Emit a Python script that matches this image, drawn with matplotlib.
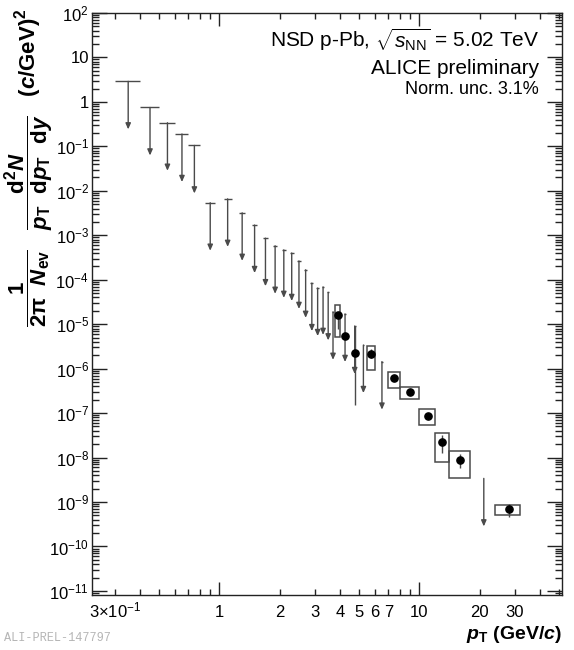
import numpy as np
import matplotlib
matplotlib.use("Agg")
import matplotlib.pyplot as plt
from matplotlib.patches import Rectangle
from matplotlib.ticker import LogLocator, FuncFormatter, FixedLocator, NullFormatter

plt.rcParams['font.family'] = ['Liberation Sans', 'DejaVu Sans']
plt.rcParams['mathtext.fontset'] = 'custom'
plt.rcParams['mathtext.rm'] = 'Liberation Sans'
plt.rcParams['mathtext.it'] = 'Liberation Sans:italic'
plt.rcParams['mathtext.bf'] = 'Liberation Sans:bold'
plt.rcParams['mathtext.bfit'] = 'Liberation Sans:italic:bold'
plt.rcParams['mathtext.sf'] = 'Liberation Sans'

# upper limits (top of arrow), pT in GeV/c
ul_pt = [0.35, 0.45, 0.55, 0.65, 0.75, 0.9, 1.1, 1.3, 1.5, 1.7, 1.9, 2.1, 2.3,
         2.5, 2.7, 2.9, 3.1, 3.3, 3.5, 3.7, 4.25, 4.75, 5.25, 6.5, 21.0]
ul_val = [2.9, 0.75, 0.34, 0.19, 0.105, 5.4e-3, 6.6e-3, 3.2e-3, 1.7e-3, 8.6e-4,
          5.8e-4, 4.7e-4, 4.0e-4, 2.65e-4, 1.67e-4, 8.4e-5, 6.5e-5, 6.9e-5,
          5.2e-5, 1.9e-5, 1.7e-5, 9.1e-6, 3.4e-6, 1.44e-6, 3.4e-9]

# measured points
pt = [3.9, 4.25, 4.75, 5.75, 7.5, 9.0, 11.0, 13.0, 16.0, 28.0]
val = [1.6e-5, 5.4e-6, 2.26e-6, 2.15e-6, 6.1e-7, 3.0e-7, 8.75e-8, 2.2e-8, 8.9e-9, 6.9e-10]
stat_low = [7.8e-6, 5.4e-6, 1.5e-7, 1.7e-6, 5.2e-7, 2.7e-7, 8.0e-8, 1.3e-8, 5.9e-9, 4.5e-10]
stat_high = [1.9e-5, 5.4e-6, 9.1e-6, 2.7e-6, 6.9e-7, 3.3e-7, 9.5e-8, 3.2e-8, 1.2e-8, 9.0e-10]

# systematic boxes (nan = no box)
sys_pt_lo = [3.8, np.nan, np.nan, 5.5, 7.0, 8.0, 10.0, 12.0, 14.0, 24.0]
sys_pt_hi = [4.0, np.nan, np.nan, 6.0, 8.0, 10.0, 12.0, 14.0, 18.0, 32.0]
sys_low = [5.25e-6, np.nan, np.nan, 9.55e-7, 3.7e-7, 2.03e-7, 5.5e-8, 8.0e-9, 3.5e-9, 5.1e-10]
sys_high = [2.69e-5, np.nan, np.nan, 3.3e-6, 8.6e-7, 3.85e-7, 1.24e-7, 3.58e-8, 1.44e-8, 8.7e-10]

y_decades = list(range(-11, 3))
x_labelled = [0.3, 2, 3, 4, 5, 6, 7, 20, 30]
x_label_text = [r'$3{\times}10^{-1}$', '2', '3', '4', '5', '6', '7', '20', '30']

grey = '#4a4a4a'
arrow_factor = 10 ** -1.08
cap_half = 0.05

fig = plt.figure(figsize=(5.74, 6.5), dpi=100)
ax = fig.add_axes([0.1598, 0.0846, 0.8188, 0.8954])
ax.set_xscale('log')
ax.set_yscale('log')
ax.set_xlim(0.23, 51.5)
ax.set_ylim(8.1e-12, 1e2)

# upper limits
for p, v in zip(ul_pt, ul_val):
    ax.hlines(v, p - cap_half, p + cap_half, color=grey, lw=1.0)
    ax.annotate('', xy=(p, v * arrow_factor), xytext=(p, v),
                arrowprops=dict(arrowstyle='-|>,head_length=0.5,head_width=0.22',
                                color=grey, lw=1.0, shrinkA=0, shrinkB=0,
                                mutation_scale=7))

# systematic boxes
for x0, x1, y0, y1 in zip(sys_pt_lo, sys_pt_hi, sys_low, sys_high):
    if np.isnan(x0):
        continue
    ax.add_patch(Rectangle((x0, y0), x1 - x0, y1 - y0, fill=False,
                           ec=grey, lw=1.1, zorder=3))

# statistical errors and points
ax.vlines(pt, stat_low, stat_high, color=grey, lw=1.0, zorder=4)
ax.plot(pt, val, 'o', color='black', ms=5.2, zorder=5)

# axes styling
for s in ax.spines.values():
    s.set_linewidth(1.0)
    s.set_color('#222222')

ax.yaxis.set_major_locator(FixedLocator([10.0 ** e for e in y_decades]))
ax.yaxis.set_minor_locator(LogLocator(base=10, subs=np.arange(2, 10), numticks=30))


def y_fmt(v, pos):
    e = int(round(np.log10(v)))
    if e == 0:
        return '1'
    if e == 1:
        return '10'
    return r'$10^{%d}$' % e


ax.yaxis.set_major_formatter(FuncFormatter(y_fmt))
ax.yaxis.set_minor_formatter(NullFormatter())

ax.xaxis.set_major_locator(FixedLocator([1, 10]))
ax.xaxis.set_minor_locator(LogLocator(base=10, subs=np.arange(2, 10), numticks=30))
ax.xaxis.set_major_formatter(FuncFormatter(lambda v, pos: '%d' % round(v)))


def x_minor_fmt(v, pos):
    for t, lab in zip(x_labelled, x_label_text):
        if abs(v - t) / t < 1e-6:
            return lab
    return ''


ax.xaxis.set_minor_formatter(FuncFormatter(x_minor_fmt))

ax.tick_params(which='both', direction='in', top=True, right=True,
               labelsize=12, color='#222222', width=1.0)
ax.tick_params(axis='x', which='major', length=9.5, pad=16)
ax.tick_params(axis='x', which='minor', length=4.5, pad=16)
ax.tick_params(axis='y', which='major', length=10.5, pad=2)
ax.tick_params(axis='y', which='minor', length=5)

fig.canvas.draw()
for lab in ax.xaxis.get_ticklabels(which='both'):
    lab.set_verticalalignment('baseline')

# texts
fig.text(0.939, 0.9272, r'NSD p-Pb, $\sqrt{s_{\rm NN}}$ = 5.02 TeV',
         ha='right', va='baseline', fontsize=15)
fig.text(0.939, 0.8862, 'ALICE preliminary',
         ha='right', va='baseline', fontsize=15)
fig.text(0.939, 0.8554, 'Norm. unc. 3.1%',
         ha='right', va='baseline', fontsize=13)

fig.text(0.05, 0.988,
         r'$\mathbf{\dfrac{1}{2\pi\ \ \mathbfit{N}_{ev}}\quad'
         r'\dfrac{d^{2}\mathbfit{N}}{\mathbfit{p}_{T}\ \ d\mathbfit{p}_{T}\ \ d\mathbfit{y}}}$'
         r'   $\mathbf{(\mathbfit{c}/GeV)^{2}}$',
         rotation=90, ha='center', va='top', fontsize=16)

fig.text(0.9786, 0.0169, r'$\mathbfit{p}_{\mathbf{T}}$ (GeV/$\mathbfit{c}$)',
         ha='right', va='baseline', fontsize=14, fontweight='bold')

fig.text(0.007, 0.018, 'ALI-PREL-147797', family='Liberation Mono',
         color='#b5b5b5', fontsize=8.6, va='center', ha='left')

fig.savefig('out.png', dpi=100)
